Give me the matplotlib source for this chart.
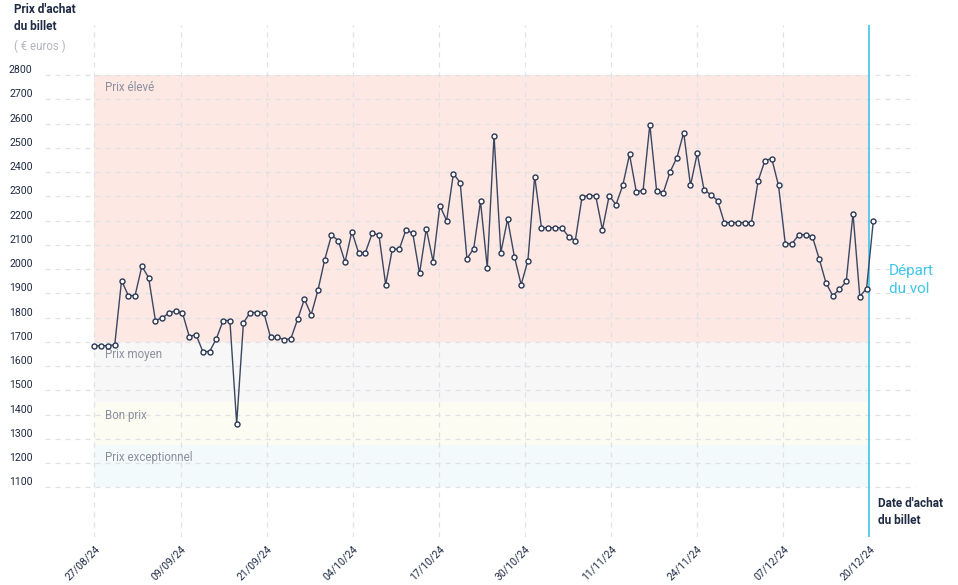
import numpy as np
import matplotlib
matplotlib.use("Agg")
import matplotlib.pyplot as plt

plt.rcParams['font.family'] = ['Roboto', 'DejaVu Sans']

# daily ticket price, 27/08/24 -> departure
prices = [1684, 1684, 1684, 1688, 1953, 1891, 1891, 2012, 1965, 1788,
          1799, 1818, 1829, 1819, 1722, 1730, 1660, 1660, 1713, 1788,
          1788, 1363, 1779, 1821, 1821, 1821, 1719, 1719, 1709, 1713,
          1793, 1876, 1812, 1913, 2039, 2140, 2118, 2029, 2155, 2068,
          2068, 2147, 2142, 1936, 2085, 2081, 2163, 2147, 1982, 2167,
          2031, 2262, 2200, 2394, 2357, 2043, 2085, 2279, 2006, 2551,
          2068, 2206, 2052, 1936, 2035, 2382, 2171, 2171, 2171, 2171,
          2134, 2118, 2299, 2303, 2303, 2163, 2303, 2266, 2345, 2473,
          2320, 2324, 2596, 2324, 2316, 2402, 2460, 2563, 2345, 2477,
          2328, 2307, 2283, 2192, 2192, 2192, 2192, 2192, 2365, 2448,
          2456, 2345, 2105, 2105, 2142, 2142, 2134, 2043, 1944, 1891,
          1916, 1949, 2229, 1887, 1920, 2200]

date_labels = ['27/08/24', '09/09/24', '21/09/24', '04/10/24', '17/10/24',
               '30/10/24', '11/11/24', '24/11/24', '07/12/24', '20/12/24']

band_names = ['Prix élevé', 'Prix moyen', 'Bon prix', 'Prix exceptionnel']
band_top = [2800, 1700, 1450, 1275]
band_bottom = [1700, 1450, 1275, 1100]
band_colors = ['#fde8e3', '#f7f7f8', '#fcfcf2', '#f2fafc']

y_ticks = list(range(1100, 2900, 100))

navy = '#1f2a44'
grid_c = '#dfe1e5'
cyan = '#3ec5ea'

x = np.arange(len(prices))
tick_pos = np.linspace(0, 114.4, len(date_labels))
x_end = tick_pos[-1]

fig = plt.figure(figsize=(9.58, 5.85), dpi=100)
ax = fig.add_axes([45 / 958, 1 - 537 / 585, 871 / 958, 512 / 585])
ax.set_xlim(-7.3, 121.3)
ax.set_ylim(895, 3007)
for s in ax.spines.values():
    s.set_visible(False)

# price bands
for name, top, bot, col in zip(band_names, band_top, band_bottom, band_colors):
    ax.fill_between([0, x_end], bot, top, color=col, lw=0, zorder=0)
    ax.annotate(name, xy=(0, top), xytext=(7.5, -4.5), textcoords='offset points',
                ha='left', va='top', fontsize=8.3, color='#8a8f9c', zorder=3)

# grid
ax.hlines(y_ticks, -7.3, 121.3, colors=grid_c, linestyles=(0, (4, 4)), lw=0.9, zorder=1)
for t in tick_pos[:-1]:
    ax.axvline(t, color=grid_c, ls=(0, (4, 4)), lw=0.9, zorder=1)
ax.axvline(x_end, color=cyan, lw=1.2, zorder=2)

ax.plot(x, prices, color='#3b4762', lw=1.0, marker='o', ms=3.6,
        mfc='white', mec='#2b3752', mew=1.0, zorder=4)

ax.set_yticks(y_ticks)
ax.set_yticklabels([str(v) for v in y_ticks])
for lab in ax.get_yticklabels():
    lab.set_verticalalignment('bottom')
ax.tick_params(axis='y', length=0, pad=9, labelsize=7.6, labelcolor=navy)

ax.set_xticks(tick_pos)
ax.set_xticklabels(date_labels, rotation=45, ha='right', va='top',
                   rotation_mode='anchor')
ax.tick_params(axis='x', length=0, pad=5, labelsize=7.6, labelcolor=navy)

fig.text(14 / 958, 1 - 18 / 585, "Prix d'achat\ndu billet", fontsize=8.5,
         fontweight='bold', color=navy, va='center', linespacing=1.35)
fig.text(14 / 958, 1 - 46 / 585, "( € euros )", fontsize=8.3,
         color='#b3b6bd', va='center')
fig.text(878 / 958, 1 - 512 / 585, "Date d'achat\ndu billet", fontsize=8.5,
         fontweight='bold', color=navy, va='center', linespacing=1.35)
fig.text(889 / 958, 1 - 280 / 585, "Départ\ndu vol", fontsize=11,
         color=cyan, va='center', linespacing=1.3)

fig.savefig('out.png', dpi=100)
